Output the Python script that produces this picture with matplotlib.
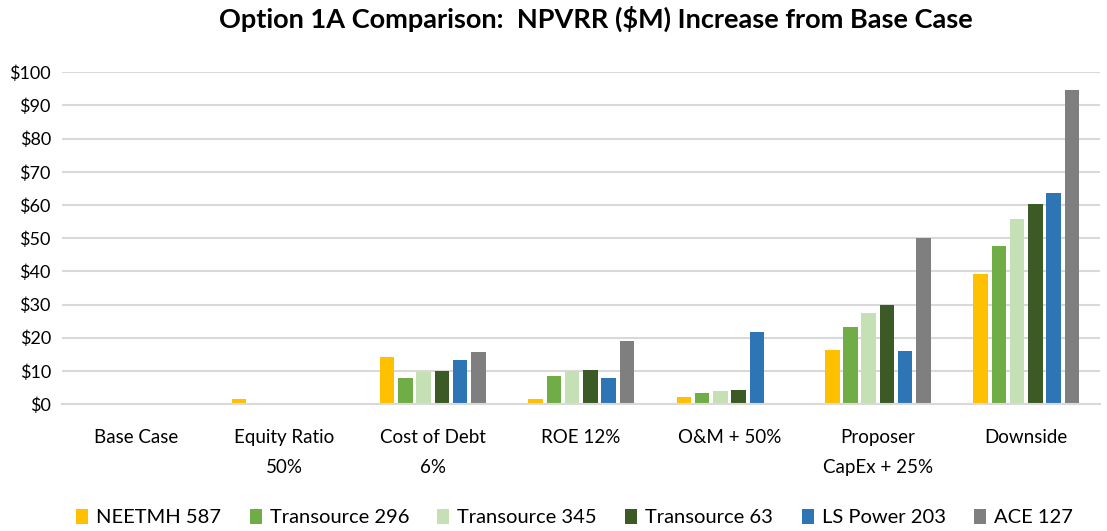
import numpy as np
import matplotlib
matplotlib.use("Agg")
import matplotlib.pyplot as plt

plt.rcParams['font.family'] = ['Lato', 'DejaVu Sans']

# data
categories = ["Base Case", "Equity Ratio\n50%", "Cost of Debt\n6%", "ROE 12%",
              "O&M + 50%", "Proposer\nCapEx + 25%", "Downside"]
series_names = ["NEETMH 587", "Transource 296", "Transource 345",
                "Transource 63", "LS Power 203", "ACE 127"]
neetmh_587 = [0, 1.5, 14.2, 1.4, 2.1, 16.4, 39.3]
transource_296 = [0, 0, 7.9, 8.4, 3.4, 23.3, 47.7]
transource_345 = [0, 0, 9.7, 10.0, 3.8, 27.3, 55.8]
transource_63 = [0, 0, 9.9, 10.3, 4.1, 30.0, 60.4]
ls_power_203 = [0, 0, 13.4, 8.0, 21.8, 16.1, 63.5]
ace_127 = [0, 0, 15.7, 19.1, 0, 50.0, 94.7]
yticks = [0, 10, 20, 30, 40, 50, 60, 70, 80, 90, 100]

colors = ["#FFC000", "#70AD47", "#C5E0B4", "#3B5A25", "#2E75B6", "#7F7F7F"]
all_series = [neetmh_587, transource_296, transource_345, transource_63, ls_power_203, ace_127]

fig = plt.figure(figsize=(11.07, 5.31), dpi=100)
ax = fig.add_axes([0.056, 0.239, 0.938, 0.625])

x = np.arange(len(categories))
pitch = 0.123
for i, (vals, name, col) in enumerate(zip(all_series, series_names, colors)):
    offs = (i - 2.5) * pitch
    ax.bar(x + offs, vals, width=0.098, color=col, linewidth=0,
           label=name, zorder=3)

ax.set_xlim(-0.5, len(categories) - 0.5)
ax.set_ylim(0, 100)
ax.set_yticks(yticks)
ax.set_yticklabels(["$%d" % v for v in yticks], fontsize=13)
ax.set_xticks(x)
ax.set_xticklabels(categories, fontsize=13.5, linespacing=1.9, va='top')
ax.tick_params(length=0, pad=8)
ax.tick_params(axis='x', pad=18)
ax.grid(axis='y', color='#D9D9D9', linewidth=1.5, zorder=0)
for s in ['top', 'right', 'left']:
    ax.spines[s].set_visible(False)
ax.spines['bottom'].set_color('#D9D9D9')
ax.spines['bottom'].set_linewidth(1.5)
ax.spines['bottom'].set_zorder(4)

fig.suptitle("Option 1A Comparison:  NPVRR ($M) Increase from Base Case",
             fontsize=19.5, fontweight='bold', x=0.538, y=0.99)

fig.legend(loc='lower center', bbox_to_anchor=(0.519, -0.025), ncol=6, frameon=False,
           fontsize=14.5, handlelength=0.6, handleheight=0.75, handletextpad=0.4,
           columnspacing=1.4)

fig.savefig("out.png", dpi=100)
